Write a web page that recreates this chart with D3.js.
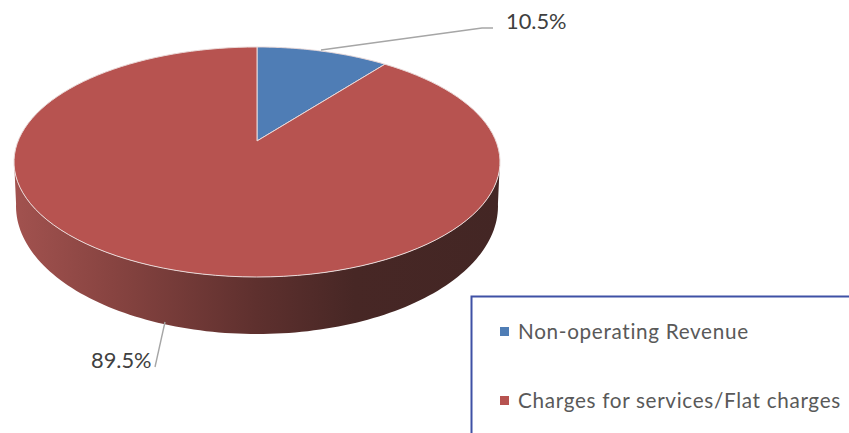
<!DOCTYPE html>
<html><head><meta charset="utf-8">
<script src="https://cdn.jsdelivr.net/npm/d3@7"></script>
<style>html,body{margin:0;padding:0;background:#fff;overflow:hidden}svg{display:block}text{font-family:Lato,"Open Sans",sans-serif}</style>
</head><body><svg id="c" width="849" height="433"></svg>
<script>
const categories = ["Non-operating Revenue", "Charges for services/Flat charges"];
const values = [10.5, 89.5];
const labels = ["10.5%", "89.5%"];
const colors = ["#4f7db5", "#b75350"];

const svg = d3.select("#c");
const defs = svg.append("defs");
const grad = defs.append("linearGradient").attr("id","wall").attr("gradientUnits","userSpaceOnUse")
  .attr("x1",14).attr("x2",500).attr("y1",0).attr("y2",0);
[[0,"#a2524f"],[0.2,"#884441"],[0.5,"#5e302e"],[0.7,"#472725"],[1,"#432624"]]
  .forEach(s=>grad.append("stop").attr("offset",s[0]).attr("stop-color",s[1]));

const sx = d3.scaleLinear([-1,1],[14,500]);
const sy = d3.scaleLinear([-1,1],[47,277]);
const bx = d3.scaleLinear([-1,1],[16,498]);
const by = d3.scaleLinear([-1,1],[78,334]);
const k = -0.183;
// perspective: the apex sits above the ellipse centre
const proj = (a,r=1)=>{
  const u=r*Math.sin(a), v=-r*Math.cos(a), w=1+k*v;
  return [sx(u*Math.sqrt(1-k*k)/w), sy((v+k)/w)];
};
const rim = (a0,a1,f)=>d3.range(0,121).map(i=>f(a0+(a1-a0)*i/120));
const line = d3.line();
const arcs = d3.pie().sort(null)(values);

// side wall: visible front half of the largest slice
const front0 = Math.PI*0.5, front1 = Math.PI*1.5;
const topEdge = rim(front0-0.02,front1+0.02,a=>[sx(Math.sin(a)),sy(-Math.cos(a))]);
const botEdge = rim(front1+0.02,front0-0.02,a=>[bx(Math.sin(a)),by(-Math.cos(a))]);
svg.append("path").attr("d",line(topEdge.concat(botEdge))+"Z").attr("fill","url(#wall)");

// top faces
svg.selectAll("path.slice").data(arcs).join("path").attr("class","slice")
  .attr("d",d=>line([proj(0,0)].concat(rim(d.startAngle,d.endAngle,proj)))+"Z")
  .attr("fill",(d,i)=>colors[i])
  .attr("stroke","#ead9d8").attr("stroke-width",1).attr("stroke-linejoin","round");

// leaders
const leaders = [[[321,50],[482,28],[493,28]],[[165,322],[155,367]]];
svg.selectAll("path.lead").data(leaders).join("path").attr("class","lead")
  .attr("d",line).attr("fill","none").attr("stroke","#a6a6a6").attr("stroke-width",1.4);
const labelPos = [[506,29],[91,368]];
svg.selectAll("text.lab").data(labels).join("text").attr("class","lab")
  .attr("x",(d,i)=>labelPos[i][0]).attr("y",(d,i)=>labelPos[i][1])
  .attr("font-size",21.8).attr("fill","#404040").text(d=>d);

// legend
svg.append("path").attr("d","M471.5,433V296.5H849").attr("fill","none").attr("stroke","#3f51a5").attr("stroke-width",2);
const legY = d3.scalePoint(categories,[339,408]);
svg.selectAll("rect.k").data(categories).join("rect").attr("class","k")
  .attr("x",500).attr("y",d=>legY(d)-12).attr("width",9).attr("height",9)
  .attr("fill",(d,i)=>colors[i]);
svg.selectAll("text.leg").data(categories).join("text").attr("class","leg")
  .attr("x",518).attr("y",d=>legY(d)).attr("font-size",20.7).attr("letter-spacing",0.68)
  .attr("fill","#595959").text(d=>d);
</script></body></html>
